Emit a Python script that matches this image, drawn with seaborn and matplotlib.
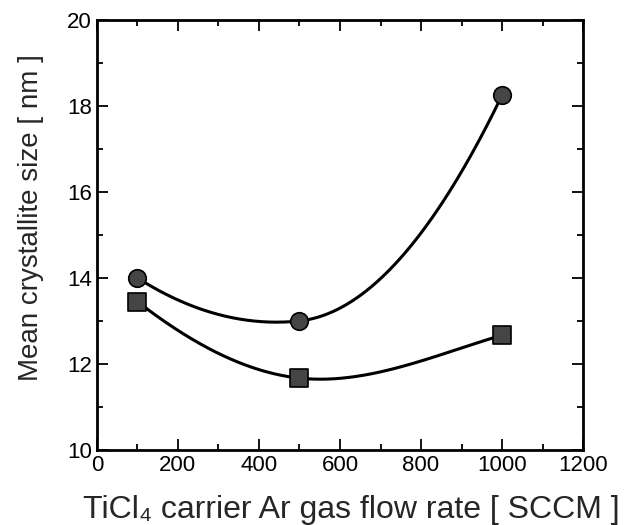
import numpy as np
import pandas as pd
import matplotlib
matplotlib.use("Agg")
import matplotlib.pyplot as plt
import seaborn as sns
from matplotlib.ticker import MultipleLocator

flow_rate = [100, 500, 1000]
size_circle = [14.0, 13.0, 18.25]
size_square = [13.45, 11.67, 12.67]
x_ticks = [0, 200, 400, 600, 800, 1000, 1200]
y_ticks = [10, 12, 14, 16, 18, 20]

# tangent slopes of the hand-smoothed guide curves at each data point
tangent_circle = [-0.006, 0.001, 0.0195]
tangent_square = [-0.0073, -0.001, 0.0028]

sns.set_style("ticks")
plt.rcParams['font.family'] = ['Liberation Sans', 'DejaVu Sans']

fig = plt.figure(figsize=(6.25, 5.25), dpi=100)
ax = fig.add_axes([0.155, 0.143, 0.778, 0.819])


def hermite(x, y, m, n=300):
    """Smooth cubic Hermite guide curve through the data points."""
    x = np.asarray(x, float)
    y = np.asarray(y, float)
    m = np.asarray(m, float)
    h = np.diff(x)
    xs = np.linspace(x[0], x[-1], n)
    idx = np.clip(np.searchsorted(x, xs) - 1, 0, len(x) - 2)
    t = (xs - x[idx]) / h[idx]
    h00 = 2 * t**3 - 3 * t**2 + 1
    h10 = t**3 - 2 * t**2 + t
    h01 = -2 * t**3 + 3 * t**2
    h11 = t**3 - t**2
    ys = h00 * y[idx] + h10 * h[idx] * m[idx] + h01 * y[idx + 1] + h11 * h[idx] * m[idx + 1]
    return pd.DataFrame({"x": xs, "y": ys})


for ys, ms in ((size_circle, tangent_circle), (size_square, tangent_square)):
    d = hermite(flow_rate, ys, ms)
    sns.lineplot(data=d, x="x", y="y", ax=ax, color="black", lw=2.2, zorder=2)

df_c = pd.DataFrame({"x": flow_rate, "y": size_circle})
df_s = pd.DataFrame({"x": flow_rate, "y": size_square})
sns.scatterplot(data=df_c, x="x", y="y", ax=ax, marker="o", s=160,
                color="#454545", edgecolor="black", linewidth=1.2, zorder=3)
sns.scatterplot(data=df_s, x="x", y="y", ax=ax, marker="s", s=150,
                color="#454545", edgecolor="black", linewidth=1.2, zorder=3)

ax.set_xlim(0, 1200)
ax.set_ylim(10, 20)
ax.set_xticks(x_ticks)
ax.set_yticks(y_ticks)
ax.xaxis.set_minor_locator(MultipleLocator(100))
ax.yaxis.set_minor_locator(MultipleLocator(1))
ax.tick_params(which="both", direction="in", top=True, right=True, width=1.3,
               labelsize=16, colors="black")
ax.tick_params(which="major", length=8)
ax.tick_params(which="minor", length=4)
for s in ax.spines.values():
    s.set_linewidth(2.0)
    s.set_color("black")

ax.set_xlabel("TiCl\u2084 carrier Ar gas flow rate [ SCCM ]", fontsize=23)
ax.set_ylabel("Mean crystallite size [ nm ]", fontsize=20)
ax.xaxis.set_label_coords(0.523, -0.105)
ax.yaxis.set_label_coords(-0.109, 0.541)

fig.savefig("out.png", dpi=100)
